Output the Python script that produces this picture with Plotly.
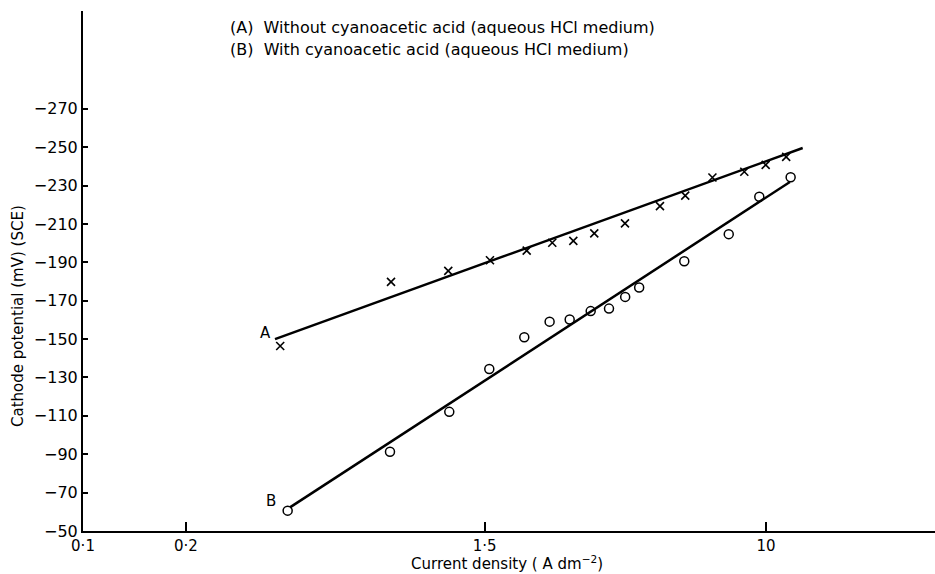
import math
import plotly.graph_objects as go

# Series A: without cyanoacetic acid (crosses)
a_x = [0.378, 0.798, 1.174, 1.555, 1.992, 2.367, 2.728, 3.142, 3.865, 4.893, 5.802, 6.97, 8.64, 9.98, 11.46]
a_y = [-146.4, -179.8, -185.6, -191.1, -196.1, -200.2, -201.2, -205.1, -210.3, -219.3, -224.8, -234.2, -237.2, -240.8, -245.0]
# Series B: with cyanoacetic acid (circles)
b_x = [0.3975, 0.7925, 1.182, 1.548, 1.960, 2.325, 2.662, 3.067, 3.47, 3.87, 4.253, 5.765, 7.78, 9.56, 11.81]
b_y = [-60.6, -91.3, -112.1, -134.4, -151.0, -159.1, -160.2, -164.6, -165.9, -172.0, -176.9, -190.6, -204.7, -224.2, -234.4]
# Fitted lines (end points)
fit_a_x = [0.365, 12.81]
fit_a_y = [-150.0, -249.6]
fit_b_x = [0.4037, 11.75]
fit_b_y = [-62.3, -231.9]

x_tickvals = [0.1, 0.2, 1.5, 10]
x_ticktext = ["0·1", "0·2", "1·5", "10"]
y_tickvals = [-50, -70, -90, -110, -130, -150, -170, -190, -210, -230, -250, -270]
y_ticktext = ["\u2212" + str(-v) for v in y_tickvals]

legend_lines = ["(A)  Without cyanoacetic acid (aqueous HCl medium)",
                "(B)  With cyanoacetic acid (aqueous HCl medium)"]

FONT = "DejaVu Sans"
W, H = 935, 574
ML, MR, MT, MB = 83, 0, 11, 43
PW, PH = W - ML - MR, H - MT - MB


def px(x):
    return (x - ML) / PW


def py(y):
    return 1 - (y - MT) / PH


fig = go.Figure()
fig.add_trace(go.Scatter(x=fit_a_x, y=fit_a_y, mode="lines", line=dict(color="black", width=2.5), showlegend=False))
fig.add_trace(go.Scatter(x=fit_b_x, y=fit_b_y, mode="lines", line=dict(color="black", width=2.5), showlegend=False))
fig.add_trace(go.Scatter(x=a_x, y=a_y, mode="markers",
                         marker=dict(symbol="x-thin", size=8, line=dict(color="black", width=1.6)), showlegend=False))
fig.add_trace(go.Scatter(x=b_x, y=b_y, mode="markers",
                         marker=dict(symbol="circle-open", size=9, color="black", line=dict(color="black", width=1.5)), showlegend=False))

fig.update_layout(
    width=W, height=H, autosize=False,
    margin=dict(l=ML, r=MR, t=MT, b=MB),
    paper_bgcolor="white", plot_bgcolor="white",
    font=dict(family=FONT, size=15, color="black"),
    xaxis=dict(type="log", range=[-1, 1.495], tickvals=x_tickvals, ticktext=x_ticktext,
               ticks="inside", ticklen=9, tickwidth=1.5, tickcolor="black", automargin=False,
               showline=True, linecolor="black", linewidth=2, showgrid=False, zeroline=False,
               tickfont=dict(size=15)),
    yaxis=dict(range=[-50, -321], tickvals=y_tickvals, ticktext=y_ticktext,
               ticks="inside", ticklen=5, tickwidth=1.5, tickcolor="black", automargin=False,
               showline=True, linecolor="black", linewidth=2, showgrid=False, zeroline=False,
               tickfont=dict(size=16)),
)

for i, t in enumerate(legend_lines):
    fig.add_annotation(x=px(228), y=py(28 + 22 * i), xref="paper", yref="paper", xanchor="left",
                       yanchor="middle", text=t, showarrow=False, font=dict(size=16))

# curve labels (log axis: annotation x in log10 units)
fig.add_annotation(x=math.log10(fit_a_x[0]), y=fit_a_y[0], xref="x", yref="y", text="A", showarrow=False,
                   xanchor="right", yanchor="middle", xshift=-2, yshift=6, font=dict(size=15))
fig.add_annotation(x=math.log10(fit_b_x[0]), y=fit_b_y[0], xref="x", yref="y", text="B", showarrow=False,
                   xanchor="right", yanchor="middle", xshift=-12, yshift=6, font=dict(size=15))

# axis titles
fig.add_annotation(x=px(18), y=py(316), xref="paper", yref="paper", text="Cathode potential (mV) (SCE)",
                   textangle=-90, showarrow=False, xanchor="center", yanchor="middle", font=dict(size=15))
fig.add_annotation(x=px(507), y=py(563), xref="paper", yref="paper", xanchor="center", yanchor="middle",
                   text="Current density ( A dm<sup>\u22122</sup>)", showarrow=False, font=dict(size=15))

post = ("document.body.style.margin='0';document.body.style.padding='0';"
        "document.body.style.overflow='hidden';"
        "var gd=document.getElementById('{plot_id}');"
        "Plotly.relayout(gd,{width:%d,height:%d});" % (W, H))
fig.write_html("out.html", config={"responsive": False, "displayModeBar": False}, post_script=post)
